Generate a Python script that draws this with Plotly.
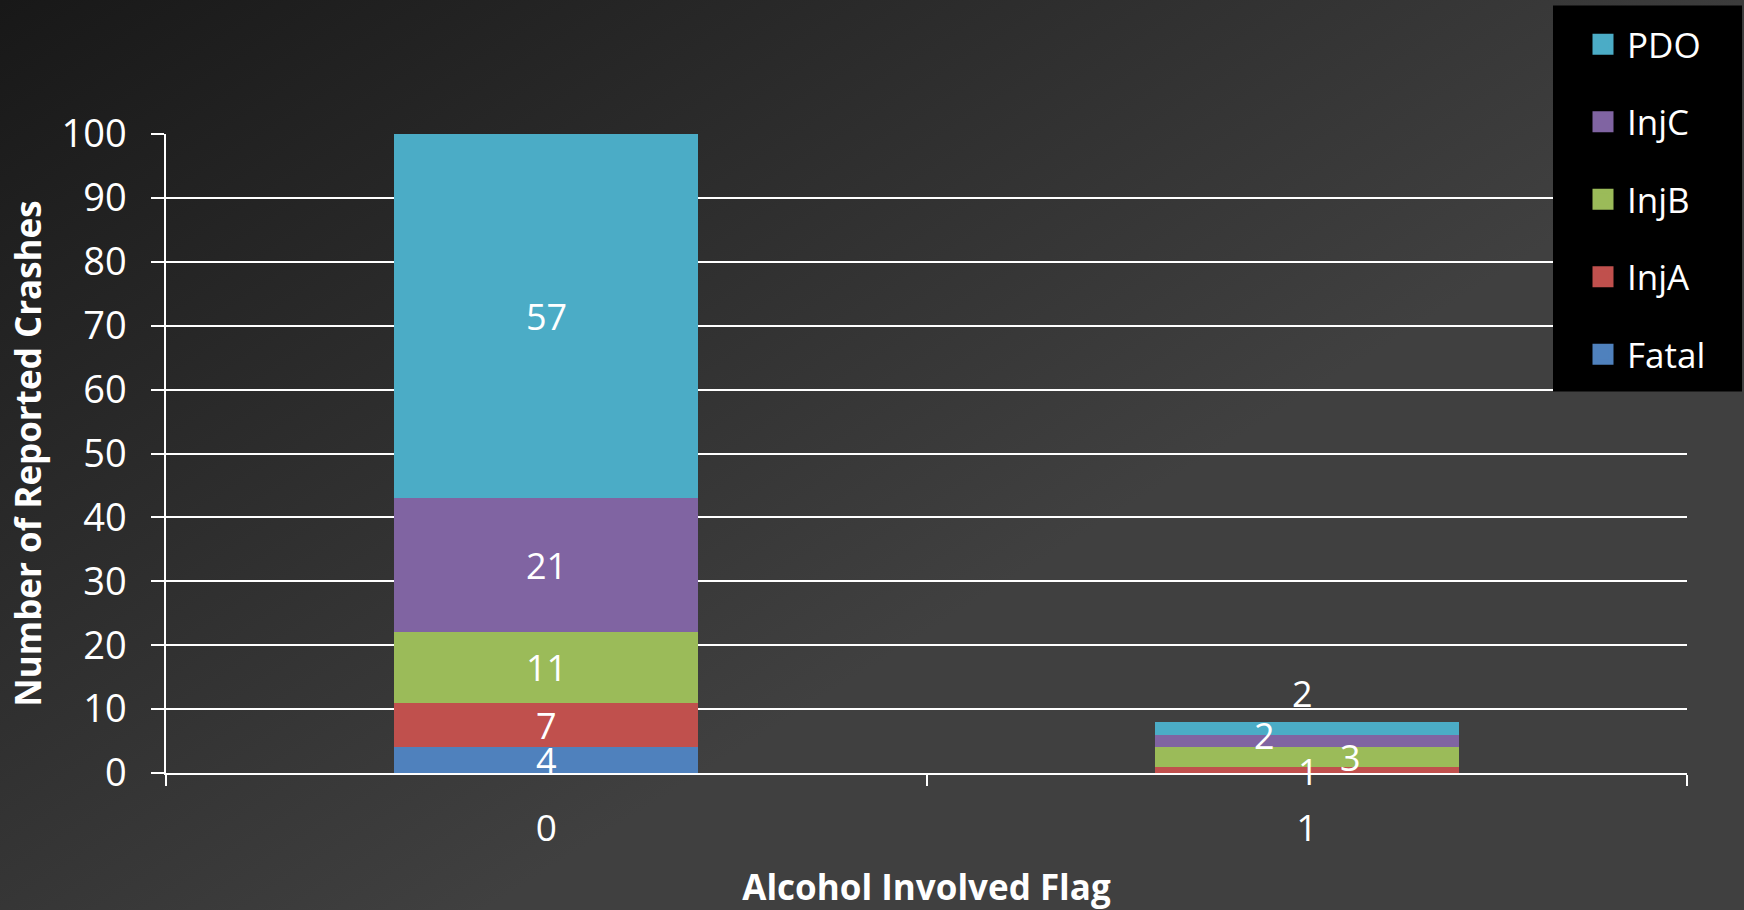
import base64
import plotly.graph_objects as go

# ---------------- data ----------------
categories = ["0", "1"]
series_names = ["Fatal", "InjA", "InjB", "InjC", "PDO"]
fatal = [4, None]
inj_a = [7, 1]
inj_b = [11, 3]
inj_c = [21, 2]
pdo = [57, 2]
series_values = [fatal, inj_a, inj_b, inj_c, pdo]
y_ticks = [0, 10, 20, 30, 40, 50, 60, 70, 80, 90, 100]

colors = ["#4F81BD", "#C0504D", "#9BBB59", "#8064A2", "#4BACC6"]
FONT = "Open Sans"

# label nudges (px) for the crowded short bar, like Excel's label placement
label_shift = {
    ("1", "InjA"): (2, -2),
    ("1", "InjB"): (44, 0),
    ("1", "InjC"): (-42, 6),
    ("1", "PDO"): (-4, 35),
}

W, H = 1744, 910
ML, MR, MT, MB = 166, 57, 134, 137
PW, PH = W - ML - MR, H - MT - MB


def px_x(p):
    return (p - ML) / PW


def px_y(p):
    return (H - MB - p) / PH


fig = go.Figure()

n = len(series_names)
for i, (name, vals, col) in enumerate(zip(series_names, series_values, colors)):
    fig.add_trace(go.Bar(
        x=categories, y=vals, name=name, marker=dict(color=col, line=dict(width=0)),
        showlegend=False, hoverinfo="skip",
    ))
    # legend entry (larger square symbol)
    fig.add_trace(go.Scatter(
        x=[None], y=[None], name=name, mode="markers", legendgroup=name,
        legendrank=n - i,
        marker=dict(symbol="square", size=16, color=col, line=dict(color=col, width=5)),
        showlegend=True,
    ))

# data labels from cumulative stack positions
annotations = []
for ci, cat in enumerate(categories):
    base = 0
    for name, vals in zip(series_names, series_values):
        v = vals[ci]
        if v is None:
            continue
        mid = base + v / 2
        dx, dy = label_shift.get((cat, name), (0, 0))
        annotations.append(dict(
            x=cat, y=mid, xref="x", yref="y", text=str(v), showarrow=False,
            font=dict(family=FONT, size=36, color="white"), xshift=dx, yshift=dy,
        ))
        base += v

svg = (
    f'<svg xmlns="http://www.w3.org/2000/svg" width="{W}" height="{H}">'
    '<defs><linearGradient id="g" gradientUnits="userSpaceOnUse" x1="0" y1="0" x2="546" y2="872">'
    '<stop offset="0" stop-color="#181818"/><stop offset="1" stop-color="#404040"/>'
    '</linearGradient></defs>'
    f'<rect width="{W}" height="{H}" fill="url(#g)"/></svg>'
)
src = "data:image/svg+xml;base64," + base64.b64encode(svg.encode()).decode()

fig.update_layout(
    width=W, height=H,
    margin=dict(l=ML, r=MR, t=MT, b=MB, autoexpand=False),
    paper_bgcolor="rgba(0,0,0,0)", plot_bgcolor="rgba(0,0,0,0)",
    barmode="stack", bargap=0.6,
    font=dict(family=FONT, color="white"),
    images=[dict(
        source=src, xref="paper", yref="paper", x=-ML / PW, y=1 + MT / PH,
        sizex=W / PW, sizey=H / PH, xanchor="left", yanchor="top",
        sizing="stretch", layer="below",
    )],
    shapes=[dict(
        type="rect", xref="paper", yref="paper",
        x0=px_x(1553), x1=px_x(1742), y0=px_y(391.5), y1=px_y(5.5),
        fillcolor="black", line=dict(width=0), layer="above",
    )],
    xaxis=dict(
        type="category", categoryorder="array", categoryarray=categories,
        tickson="boundaries", ticks="outside", ticklen=11, tickwidth=1.5, tickcolor="white",
        showline=True, linecolor="white", linewidth=1.5, showgrid=False,
        tickfont=dict(family=FONT, size=37, color="white"), ticklabelstandoff=22,
        title=dict(text="<b>Alcohol Involved Flag</b>", standoff=25,
                   font=dict(family=FONT, size=35, color="white")),
    ),
    yaxis=dict(
        range=[0, 100], tickvals=y_ticks, ticks="outside", ticklen=13, tickwidth=1.5,
        tickcolor="white", showline=True, linecolor="white", linewidth=1.5,
        showgrid=True, gridcolor="white", gridwidth=1.5, zeroline=False,
        tickfont=dict(family=FONT, size=38, color="white"), ticklabelstandoff=17,
        title=dict(text="<b>Number of Reported Crashes</b>", standoff=9,
                   font=dict(family=FONT, size=35, color="white")),
    ),
    legend=dict(
        x=px_x(1553), y=px_y(15), xanchor="left", yanchor="top",
        bgcolor="rgba(0,0,0,0)", borderwidth=0, font=dict(family=FONT, size=35, color="white"),
        traceorder="grouped", tracegroupgap=29, itemwidth=38, indentation=26,
    ),
    annotations=annotations,
)

fig.write_html(
    "out.html",
    config={"displayModeBar": False},
    post_script="document.body.style.margin='0px';",
)
